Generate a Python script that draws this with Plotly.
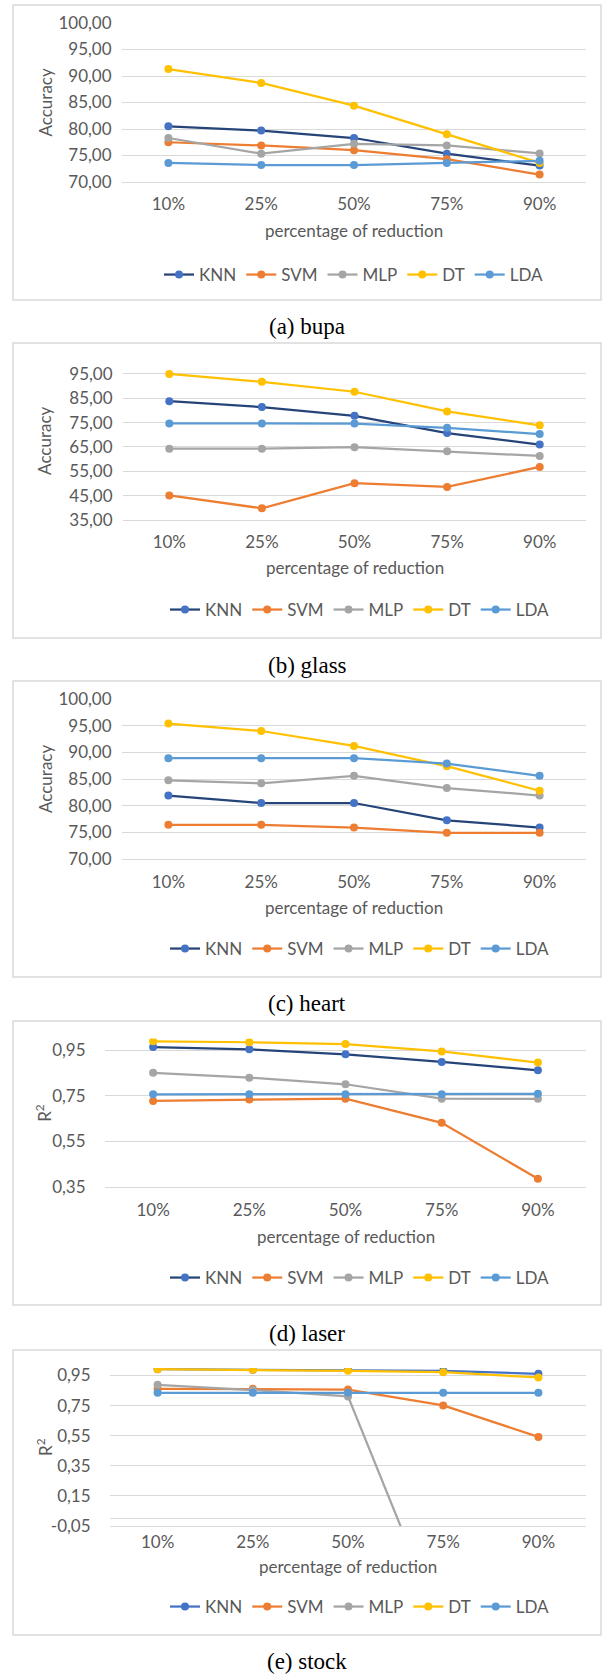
import plotly.graph_objects as go

W, H = 602, 1676

categories = ["10%", "25%", "50%", "75%", "90%"]
models = ["KNN", "SVM", "MLP", "DT", "LDA"]
captions = ["(a) bupa", "(b) glass", "(c) heart", "(d) laser", "(e) stock"]
y_titles = ["Accuracy", "Accuracy", "Accuracy", "R<sup>2</sup>", "R<sup>2</sup>"]
x_title = "percentage of reduction"

# (a) bupa
bupa_knn = [80.5, 79.7, 78.3, 75.35, 73.1]
bupa_svm = [77.5, 76.9, 76.0, 74.3, 71.4]
bupa_mlp = [78.3, 75.35, 77.2, 76.9, 75.4]
bupa_dt = [91.3, 88.7, 84.4, 79.0, 73.6]
bupa_lda = [73.6, 73.2, 73.2, 73.6, 74.0]

# (b) glass
glass_knn = [83.8, 81.4, 77.8, 70.7, 66.0]
glass_svm = [45.1, 39.8, 50.1, 48.6, 56.8]
glass_mlp = [64.3, 64.3, 64.9, 63.2, 61.3]
glass_dt = [95.0, 91.8, 87.7, 79.6, 73.9]
glass_lda = [74.7, 74.7, 74.6, 72.9, 70.3]

# (c) heart
heart_knn = [81.9, 80.5, 80.5, 77.25, 75.9]
heart_svm = [76.4, 76.4, 75.9, 74.9, 74.9]
heart_mlp = [84.75, 84.2, 85.6, 83.3, 81.9]
heart_dt = [95.4, 94.0, 91.2, 87.4, 82.8]
heart_lda = [88.9, 88.9, 88.9, 87.9, 85.6]

# (d) laser
laser_knn = [0.963, 0.953, 0.931, 0.898, 0.861]
laser_svm = [0.727, 0.733, 0.737, 0.631, 0.386]
laser_mlp = [0.850, 0.829, 0.800, 0.737, 0.736]
laser_dt = [0.988, 0.984, 0.976, 0.944, 0.895]
laser_lda = [0.756, 0.756, 0.756, 0.756, 0.758]

# (e) stock
stock_knn = [0.992, 0.988, 0.988, 0.981, 0.961]
stock_svm = [0.862, 0.862, 0.857, 0.751, 0.542]
stock_mlp = [0.888, 0.853, 0.811, -0.75, -0.90]
stock_dt = [0.992, 0.988, 0.981, 0.972, 0.937]
stock_lda = [0.835, 0.835, 0.835, 0.835, 0.835]

panel_series = [
    [bupa_knn, bupa_svm, bupa_mlp, bupa_dt, bupa_lda],
    [glass_knn, glass_svm, glass_mlp, glass_dt, glass_lda],
    [heart_knn, heart_svm, heart_mlp, heart_dt, heart_lda],
    [laser_knn, laser_svm, laser_mlp, laser_dt, laser_lda],
    [stock_knn, stock_svm, stock_mlp, stock_dt, stock_lda],
]

y_ranges = [[70, 100], [35, 100], [70, 100], [0.35, 1.0], [-0.05, 1.0]]
y_ticks = [
    [70, 75, 80, 85, 90, 95, 100],
    [35, 45, 55, 65, 75, 85, 95],
    [70, 75, 80, 85, 90, 95, 100],
    [0.35, 0.55, 0.75, 0.95],
    [-0.05, 0.15, 0.35, 0.55, 0.75, 0.95],
]
y_ticktext = [
    ["70,00", "75,00", "80,00", "85,00", "90,00", "95,00", "100,00"],
    ["35,00", "45,00", "55,00", "65,00", "75,00", "85,00", "95,00"],
    ["70,00", "75,00", "80,00", "85,00", "90,00", "95,00", "100,00"],
    ["0,35", "0,55", "0,75", "0,95"],
    ["-0,05", "0,15", "0,35", "0,55", "0,75", "0,95"],
]

marker_colors = ["#4472C4", "#ED7D31", "#A5A5A5", "#FFC000", "#5B9BD5"]
line_colors = ["#264478", "#ED7D31", "#A5A5A5", "#FFC000", "#5B9BD5"]

# layout geometry in pixels
geo = [
    dict(ft=5, fb=300, pl=122, pt=23, pb=182, xlen=6, xt=230, leg=275, legx=354, cap=327, ytx=45, ylen=6),
    dict(ft=343, fb=638, pl=123, pt=361.8, pb=520, xlen=6, xt=568, leg=610, legx=360, cap=665, ytx=45, ylen=6),
    dict(ft=681, fb=977, pl=122, pt=699, pb=859, xlen=7, xt=907, leg=949, legx=360, cap=1003, ytx=45, ylen=6),
    dict(ft=1021, fb=1305, pl=105, pt=1038.6, pb=1187, xlen=7, xt=1236, leg=1278, legx=360, cap=1333, ytx=44, ylen=15),
    dict(ft=1350, fb=1635, pl=110, pt=1368, pb=1526, xlen=0, xt=1566, leg=1607, legx=360, cap=1661, ytx=44, ylen=15),
]
PR = 586

def fx(x):
    return x / W

def fy(y):
    return 1 - y / H

GREY = "#595959"
GRID = "#D9D9D9"
FONT = "Lato"
FS = 17

fig = go.Figure()
layout = dict(
    template="none",
    width=W, height=H, margin=dict(l=0, r=0, t=0, b=0, pad=0),
    paper_bgcolor="white", plot_bgcolor="white",
    showlegend=True,
    font=dict(family=FONT, color=GREY, size=FS),
)
shapes = []
annotations = []

for i in range(5):
    g = geo[i]
    n = i + 1
    xa = "x" if n == 1 else f"x{n}"
    ya = "y" if n == 1 else f"y{n}"
    lg = "legend" if n == 1 else f"legend{n}"
    for j, m in enumerate(models):
        lc = line_colors[j]
        if i == 4 and j == 0:
            lc = marker_colors[0]
        fig.add_trace(go.Scatter(
            x=categories, y=panel_series[i][j], name=m, mode="lines+markers",
            line=dict(color=lc, width=2.25),
            marker=dict(color=marker_colors[j], size=8, line=dict(width=0)),
            xaxis=xa, yaxis=ya, legend=lg, cliponaxis=True, hoverinfo="skip",
        ))
    layout["xaxis" if n == 1 else f"xaxis{n}"] = dict(
        domain=[fx(g["pl"]), fx(PR)], anchor=ya, type="category", automargin=False,
        range=[-0.5, 4.5], showgrid=False, showline=True, linecolor=GRID, linewidth=1.3,
        ticks="outside" if g["xlen"] > 0 else "", ticklen=max(g["xlen"], 1),
        tickcolor="rgba(0,0,0,0)",
        tickfont=dict(family=FONT, size=FS, color=GREY), zeroline=False,
    )
    layout["yaxis" if n == 1 else f"yaxis{n}"] = dict(
        domain=[fy(g["pb"]), fy(g["pt"])], anchor=xa, range=y_ranges[i], automargin=False,
        tickvals=y_ticks[i], ticktext=y_ticktext[i], showgrid=True, gridcolor=GRID, gridwidth=1.3,
        ticks="outside", ticklen=g["ylen"], tickcolor="rgba(0,0,0,0)",
        tickfont=dict(family=FONT, size=FS, color=GREY),
        zeroline=(i == 4), zerolinecolor=GRID, zerolinewidth=1.3, showline=False,
    )
    layout[lg] = dict(
        orientation="h", x=fx(g["legx"]), xanchor="center",
        y=fy(g["leg"]), yanchor="middle", bgcolor="rgba(0,0,0,0)", borderwidth=0,
        font=dict(family=FONT, size=FS, color=GREY), itemclick=False,
    )
    shapes.append(dict(type="rect", xref="paper", yref="paper",
                       x0=fx(13), x1=fx(601), y0=fy(g["fb"]), y1=fy(g["ft"]),
                       line=dict(color=GRID, width=1.5), fillcolor="rgba(0,0,0,0)", layer="below"))
    annotations.append(dict(text=x_title, x=fx((g["pl"] + PR) / 2), y=fy(g["xt"]),
                            xref="paper", yref="paper", showarrow=False,
                            xanchor="center", yanchor="middle",
                            font=dict(family=FONT, size=FS, color=GREY)))
    annotations.append(dict(text=y_titles[i], x=fx(g["ytx"]), y=fy((g["pt"] + g["pb"]) / 2),
                            xref="paper", yref="paper", showarrow=False, textangle=-90,
                            xanchor="center", yanchor="middle",
                            font=dict(family=FONT, size=FS, color=GREY)))
    annotations.append(dict(text=captions[i], x=fx(307), y=fy(g["cap"]),
                            xref="paper", yref="paper", showarrow=False,
                            xanchor="center", yanchor="middle",
                            font=dict(family="Liberation Serif", size=23, color="black")))

layout["shapes"] = shapes
layout["annotations"] = annotations
fig.update_layout(**layout)
fig.write_html("out.html", config={"displayModeBar": False},
               post_script="document.body.style.margin='0';document.body.style.padding='0';")
